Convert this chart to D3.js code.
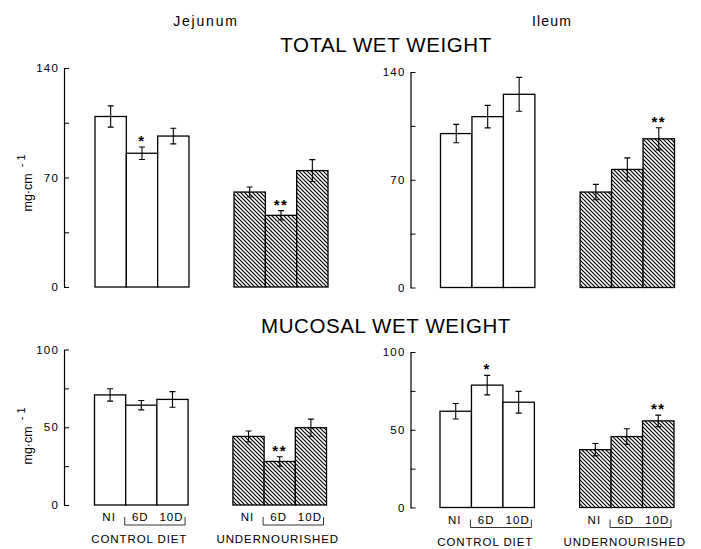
<!DOCTYPE html>
<html>
<head>
<meta charset="utf-8">
<script src="https://cdn.jsdelivr.net/npm/d3@7"></script>
<style>
  html, body { margin: 0; padding: 0; background: #fff; }
  svg { display: block; font-family: "Liberation Sans", Arial, Helvetica, sans-serif; }
</style>
</head>
<body>
<svg id="chart" width="701" height="549"></svg>
<script>
// ---------------- data ----------------
const groups = ["CONTROL DIET", "UNDERNOURISHED"];
const days = ["NI", "6D", "10D"];

const jejTotal    = [109, 85.5, 96.5, 60.7, 45.8, 74.4];
const jejTotalErr = [6.8, 4, 5, 3.2, 3, 7];
const jejTotalSig = ["", "*", "", "", "**", ""];

const ileTotal    = [100, 111, 125.5, 62, 76.7, 96.6];
const ileTotalErr = [6, 7.3, 11, 5, 7.5, 7.2];
const ileTotalSig = ["", "", "", "", "", "**"];

const jejMuc    = [70.8, 64.2, 67.9, 44.1, 28, 49.7];
const jejMucErr = [4, 3, 5, 3.5, 3, 5.5];
const jejMucSig = ["", "", "", "", "**", ""];

const ileMuc    = [61.9, 78.7, 67.7, 37.2, 45.6, 55.7];
const ileMucErr = [5, 6.3, 7, 4, 5, 3.7];
const ileMucSig = ["", "*", "", "", "", "**"];

const totalTicks = [0, 35, 70, 105, 140];
const totalLabels = [0, 70, 140];
const mucTicks = [0, 25, 50, 75, 100];
const mucLabels = [0, 50, 100];

// ---------------- layout ----------------
const svg = d3.select("#chart");
const defs = svg.append("defs");
const pat = defs.append("pattern")
  .attr("id", "hatch").attr("patternUnits", "userSpaceOnUse")
  .attr("width", 4).attr("height", 4);
pat.append("rect").attr("width", 4).attr("height", 4).attr("fill", "#fff");
pat.append("path")
  .attr("d", "M-1,-1 L5,5 M-1,3 L1,5 M3,-1 L5,1")
  .attr("stroke", "#000").attr("stroke-width", 1.2);

const panels = [
  { vals: jejTotal, err: jejTotalErr, sig: jejTotalSig, max: 140, ticks: totalTicks, labels: totalLabels,
    axisX: 64, y0: 287, y1: 68, xr: [95, 328], xlab: false, ylabY: 183 },
  { vals: ileTotal, err: ileTotalErr, sig: ileTotalSig, max: 140, ticks: totalTicks, labels: totalLabels,
    axisX: 410.5, y0: 287.5, y1: 72, xr: [440.5, 674.5], xlab: false, ylabY: null },
  { vals: jejMuc, err: jejMucErr, sig: jejMucSig, max: 100, ticks: mucTicks, labels: mucLabels,
    axisX: 64, y0: 505, y1: 349.5, xr: [94.5, 326.5], xlab: true, ylabY: 436 },
  { vals: ileMuc, err: ileMucErr, sig: ileMucSig, max: 100, ticks: mucTicks, labels: mucLabels,
    axisX: 410.5, y0: 507.5, y1: 352, xr: [440, 674], xlab: true, ylabY: null }
];

panels.forEach(p => {
  const y = d3.scaleLinear().domain([0, p.max]).range([p.y0, p.y1]);
  const gx = d3.scaleBand().domain(groups).range(p.xr).paddingInner(0.324).paddingOuter(0);
  const dx = d3.scaleBand().domain(days).range([0, gx.bandwidth()]).padding(0);

  const rows = [];
  groups.forEach((g, gi) => days.forEach((d, di) => {
    const i = gi * 3 + di;
    rows.push({ g, d, gi, v: p.vals[i], e: p.err[i], s: p.sig[i] });
  }));

  // axis
  const axis = d3.axisLeft(y).tickValues(p.ticks)
    .tickSizeInner(-5).tickSizeOuter(0).tickPadding(5)
    .tickFormat(v => p.labels.includes(v) ? v : "");
  const ga = svg.append("g").attr("transform", `translate(${p.axisX},0)`).call(axis);
  ga.attr("font-size", null).attr("font-family", null);
  ga.select(".domain").attr("stroke", "#000").attr("stroke-width", 1.2);
  ga.selectAll(".tick line").attr("stroke", "#000").attr("stroke-width", 1);
  ga.selectAll(".tick text").attr("font-size", 11.5).attr("fill", "#000")
    .attr("letter-spacing", 1.2);

  // bars
  const g = svg.append("g");
  g.selectAll("rect.bar").data(rows).join("rect")
    .attr("class", "bar")
    .attr("x", r => gx(r.g) + dx(r.d))
    .attr("y", r => y(r.v))
    .attr("width", dx.bandwidth())
    .attr("height", r => y(0) - y(r.v))
    .attr("fill", r => r.gi === 0 ? "#fff" : "url(#hatch)")
    .attr("stroke", "#000").attr("stroke-width", 1.3);

  // error bars
  const cx = r => gx(r.g) + dx(r.d) + dx.bandwidth() / 2;
  g.selectAll("path.err").data(rows).join("path")
    .attr("class", "err")
    .attr("d", r => {
      const x = cx(r), t = y(r.v + r.e), b = y(r.v - r.e);
      return `M${x},${t}V${b}M${x - 3},${t}H${x + 3}M${x - 3},${b}H${x + 3}`;
    })
    .attr("stroke", "#000").attr("stroke-width", 1.1).attr("fill", "none");

  // significance
  g.selectAll("text.sig").data(rows.filter(r => r.s)).join("text")
    .attr("class", "sig")
    .attr("x", cx)
    .attr("y", r => y(r.v + r.e) - 1)
    .attr("text-anchor", "middle")
    .attr("font-size", 15).attr("font-weight", "bold").attr("letter-spacing", 1.5)
    .text(r => r.s);

  // x labels
  if (p.xlab) {
    const lb = p.y0 + 16;
    g.selectAll("text.day").data(rows).join("text")
      .attr("class", "day")
      .attr("x", r => cx(r) - 1)
      .attr("y", lb)
      .attr("text-anchor", "middle")
      .attr("font-size", 11.5).attr("letter-spacing", 1)
      .text(r => r.d);
    groups.forEach(gr => {
      const xa = gx(gr) + dx("6D") - 1, xb = gx(gr) + gx.bandwidth() - 3;
      g.append("path")
        .attr("d", `M${xa},${lb - 4}V${lb + 4}H${xb}V${lb - 4}`)
        .attr("stroke", "#000").attr("stroke-width", 0.8).attr("fill", "none");
      g.append("text")
        .attr("x", gx(gr) + gx.bandwidth() / 2 - 2)
        .attr("y", p.y0 + 38)
        .attr("text-anchor", "middle")
        .attr("font-size", 11.5).attr("letter-spacing", 0.9)
        .text(gr);
    });
  }

  // y label
  if (p.ylabY !== null) {
    const t = svg.append("text")
      .attr("transform", `translate(32,${p.ylabY}) rotate(-90)`)
      .attr("text-anchor", "middle")
      .attr("font-size", 12.5);
    t.append("tspan").text("mg·cm");
    t.append("tspan").attr("dy", -7).attr("dx", 6).attr("font-size", 11).text("- 1");
  }
});

// titles
svg.append("text").attr("x", 206).attr("y", 26).attr("text-anchor", "middle")
  .attr("font-size", 14).attr("letter-spacing", 1.8).text("Jejunum");
svg.append("text").attr("x", 552).attr("y", 26).attr("text-anchor", "middle")
  .attr("font-size", 14).attr("letter-spacing", 1.2).text("Ileum");
svg.append("text").attr("x", 386).attr("y", 52).attr("text-anchor", "middle")
  .attr("font-size", 20.5).attr("letter-spacing", 0.6).text("TOTAL WET WEIGHT");
svg.append("text").attr("x", 386).attr("y", 333).attr("text-anchor", "middle")
  .attr("font-size", 20.5).attr("letter-spacing", 0.6).text("MUCOSAL WET WEIGHT");
</script>
</body>
</html>
